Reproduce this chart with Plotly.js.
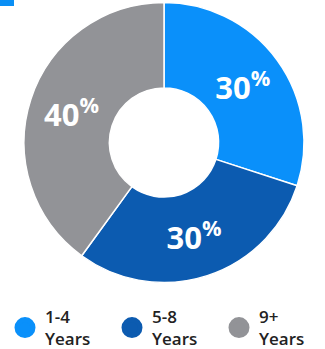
<!DOCTYPE html>
<html>
<head>
<meta charset="utf-8">
<script src="https://cdn.plot.ly/plotly-3.0.1.min.js"></script>
<style>html,body{margin:0;padding:0;background:#fff;}#chart{width:325px;height:349px;}</style>
</head>
<body>
<div id="chart"></div>
<script>
var categories = ["1-4<br>Years", "5-8<br>Years", "9+<br>Years"];
var shares = [30, 30, 40];
var colors = ["#0a90fa", "#0c5bb0", "#929397"];

var W = 325, H = 349;
var traces = [{
  type: "pie",
  values: shares,
  labels: categories,
  sort: false,
  direction: "clockwise",
  rotation: 0,
  hole: 0.39,
  domain: {x: [24 / W, 304 / W], y: [1 - 283 / H, 1 - 2 / H]},
  marker: {colors: colors, line: {color: "#ffffff", width: 1.5}},
  texttemplate: "%{value}<sup>%</sup>",
  textposition: "inside",
  insidetextorientation: "horizontal",
  textfont: {family: "Open Sans", size: 31, color: "#ffffff", weight: 700},
  showlegend: false,
  hoverinfo: "none"
}];
categories.forEach(function (c, i) {
  traces.push({
    type: "scatter",
    mode: "markers",
    x: [null], y: [null],
    name: c,
    marker: {size: 16, color: colors[i], symbol: "circle", line: {color: colors[i], width: 5}},
    showlegend: true,
    hoverinfo: "none"
  });
});

var layout = {
  width: W, height: H,
  margin: {l: 0, r: 0, t: 0, b: 0, autoexpand: false},
  paper_bgcolor: "#ffffff",
  plot_bgcolor: "#ffffff",
  xaxis: {visible: false},
  yaxis: {visible: false},
  showlegend: true,
  legend: {
    orientation: "h",
    x: 5 / W, xanchor: "left",
    y: 1 - 299 / H, yanchor: "top",
    entrywidth: 62, entrywidthmode: "pixels",
    font: {family: "Open Sans", size: 17, color: "#222222", weight: 600},
    valign: "middle",
    tracegroupgap: 0
  },
  shapes: [{
    type: "rect", xref: "paper", yref: "paper",
    x0: 0, x1: 14 / W, y0: 1 - 6 / H, y1: 1,
    fillcolor: "#0a8ff5", line: {width: 0}
  }]
};

Plotly.newPlot("chart", traces, layout, {displayModeBar: false, staticPlot: true});
</script>
</body>
</html>
